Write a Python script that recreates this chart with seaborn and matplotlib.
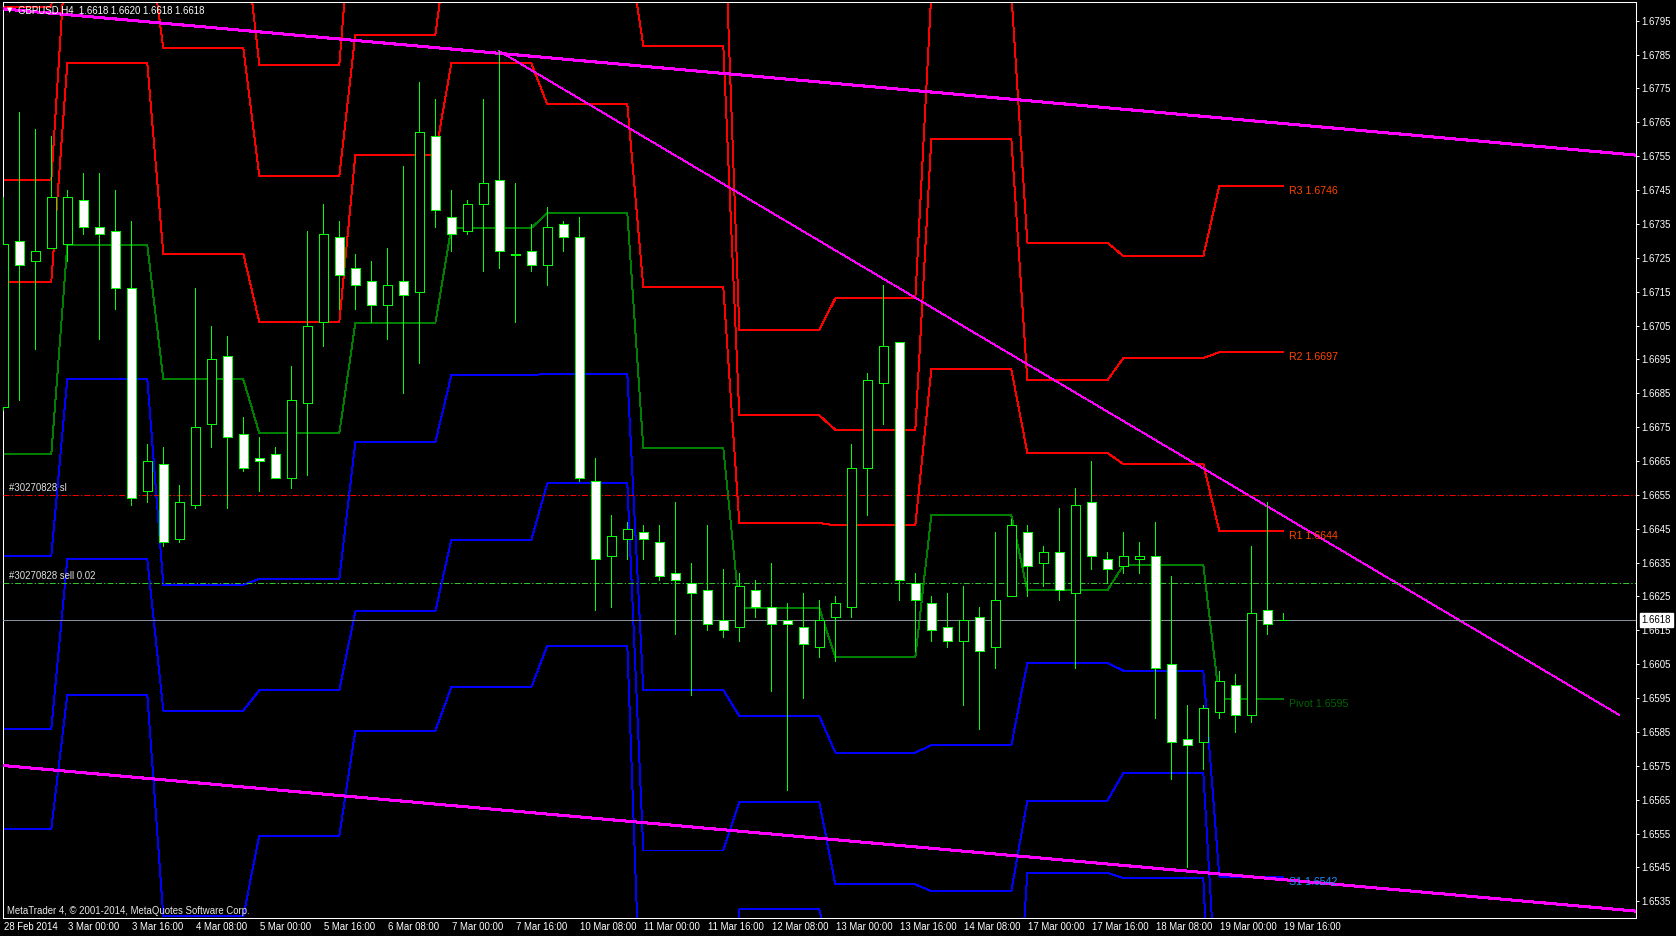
import numpy as np
import pandas as pd
import matplotlib
matplotlib.use("Agg")
import matplotlib.pyplot as plt
from matplotlib import transforms
import seaborn as sns

# ---------------- data ----------------
symbol = "GBPUSD,H4"
tick_labels = ["28 Feb 2014", "3 Mar 00:00", "3 Mar 16:00", "4 Mar 08:00", "5 Mar 00:00",
               "5 Mar 16:00", "6 Mar 08:00", "7 Mar 00:00", "7 Mar 16:00", "10 Mar 08:00",
               "11 Mar 00:00", "11 Mar 16:00", "12 Mar 08:00", "13 Mar 00:00", "13 Mar 16:00",
               "14 Mar 08:00", "17 Mar 00:00", "17 Mar 16:00", "18 Mar 08:00", "19 Mar 00:00",
               "19 Mar 16:00"]

opens = [1.6681, 1.6730, 1.6724, 1.6728, 1.6729, 1.6742, 1.6734, 1.6733, 1.6716, 1.6656,
         1.6664, 1.6642, 1.6652, 1.6676, 1.6696, 1.6673, 1.6666, 1.6667, 1.6660, 1.6682,
         1.6706, 1.6731, 1.6722, 1.6718, 1.6711, 1.6718, 1.6715, 1.6761, 1.6737, 1.6733,
         1.6741, 1.6748, 1.67262, 1.6727, 1.6723, 1.6735, 1.6731, 1.6659, 1.6637, 1.6642,
         1.6644, 1.6641, 1.6632, 1.6629, 1.6627, 1.6618, 1.6616, 1.6627, 1.6622, 1.6618,
         1.6616, 1.6610, 1.6619, 1.6622, 1.6663, 1.6688, 1.6700, 1.6629, 1.6623, 1.6616,
         1.6612, 1.6619, 1.6610, 1.6625, 1.6644, 1.6635, 1.6638, 1.6626, 1.6653, 1.6636,
         1.6634, 1.6636, 1.6637, 1.6605, 1.6583, 1.6582, 1.6591, 1.6599, 1.6590, 1.6621,
         1.6618]
highs = [1.6743, 1.6768, 1.6763, 1.6761, 1.6745, 1.6750, 1.6750, 1.6745, 1.6736, 1.6670,
         1.6669, 1.6658, 1.6716, 1.6705, 1.6702, 1.6678, 1.6672, 1.6669, 1.6693, 1.6733,
         1.6741, 1.6736, 1.6726, 1.6724, 1.6728, 1.6752, 1.6777, 1.6772, 1.6745, 1.6742,
         1.6772, 1.6786, 1.6747, 1.6735, 1.6740, 1.6736, 1.6737, 1.6666, 1.6649, 1.6647,
         1.6646, 1.6646, 1.6653, 1.6635, 1.6646, 1.6633, 1.6632, 1.6630, 1.6635, 1.6623,
         1.6626, 1.6624, 1.6625, 1.6670, 1.6691, 1.6717, 1.6700, 1.6632, 1.6625, 1.6626,
         1.6628, 1.6622, 1.6644, 1.6648, 1.6646, 1.6640, 1.6651, 1.6657, 1.6665, 1.6638,
         1.6644, 1.6641, 1.6647, 1.6631, 1.6593, 1.6593, 1.6603, 1.6602, 1.6640, 1.6653,
         1.6620]
lows = [1.6680, 1.6683, 1.6698, 1.6728, 1.6724, 1.6732, 1.6701, 1.6710, 1.6652, 1.6653,
        1.6640, 1.6641, 1.6651, 1.6669, 1.6651, 1.6662, 1.6656, 1.6660, 1.6657, 1.6661,
        1.6699, 1.6710, 1.6710, 1.6706, 1.6701, 1.6685, 1.6694, 1.6734, 1.6727, 1.6732,
        1.6721, 1.6722, 1.6706, 1.6721, 1.6717, 1.6727, 1.6659, 1.6621, 1.6622, 1.6636,
        1.6636, 1.6630, 1.6614, 1.6596, 1.6615, 1.6613, 1.6612, 1.6619, 1.6597, 1.6568,
        1.6595, 1.6607, 1.6606, 1.6619, 1.6649, 1.6676, 1.6624, 1.6609, 1.6612, 1.6610,
        1.6593, 1.6586, 1.6604, 1.6625, 1.6625, 1.6628, 1.6624, 1.6604, 1.6633, 1.6629,
        1.6632, 1.6632, 1.6589, 1.6571, 1.6545, 1.6574, 1.6589, 1.6585, 1.6588, 1.6614,
        1.6618]
closes = [1.6729, 1.6723, 1.6727, 1.6743, 1.6743, 1.6734, 1.6732, 1.6716, 1.6654, 1.6665,
          1.6641, 1.6653, 1.6675, 1.6695, 1.6672, 1.6663, 1.6665, 1.6660, 1.6683, 1.6705,
          1.6732, 1.6720, 1.6717, 1.6711, 1.6717, 1.6714, 1.6762, 1.6739, 1.6732, 1.6741,
          1.6747, 1.6727, 1.67258, 1.6723, 1.6734, 1.6731, 1.6660, 1.6636, 1.6643, 1.6645,
          1.6642, 1.6631, 1.6630, 1.6626, 1.6617, 1.6615, 1.6628, 1.6622, 1.6617, 1.6617,
          1.6611, 1.6618, 1.6623, 1.6663, 1.6689, 1.6699, 1.6630, 1.6624, 1.6615, 1.6612,
          1.6618, 1.6609, 1.6624, 1.6646, 1.6634, 1.6638, 1.6627, 1.6652, 1.6637, 1.6633,
          1.6637, 1.6637, 1.6604, 1.6582, 1.6581, 1.6592, 1.6600, 1.6590, 1.6620, 1.6617,
          1.6618]

# daily pivot levels (28 Feb, 3 Mar ... 19 Mar)
bars_per_day = [4, 6, 6, 6, 6, 6, 6, 6, 6, 6, 6, 6, 6, 5]
R3 = [1.67990, 1.68750, 1.68240, 1.67820, 1.68406, 1.68745, 1.68508, 1.68352, 1.67037, 1.67130, 1.68032, 1.67295, 1.67255, 1.67462]
R2 = [1.67479, 1.68220, 1.67869, 1.67491, 1.67908, 1.68258, 1.68184, 1.67876, 1.66785, 1.66742, 1.67602, 1.66888, 1.66954, 1.66971]
R1 = [1.67179, 1.67824, 1.67262, 1.67060, 1.67553, 1.67824, 1.67703, 1.67163, 1.66467, 1.66460, 1.66921, 1.66674, 1.66641, 1.66443]
PP = [1.66670, 1.67287, 1.66891, 1.66732, 1.67057, 1.67338, 1.67382, 1.66688, 1.66215, 1.66070, 1.66490, 1.66268, 1.66342, 1.65948]
S1 = [1.66369, 1.66893, 1.66284, 1.66302, 1.66705, 1.66903, 1.66908, 1.65974, 1.65897, 1.65789, 1.65811, 1.66054, 1.66031, 1.65423]
S2 = [1.65859, 1.66360, 1.65913, 1.65973, 1.66206, 1.66417, 1.66584, 1.65500, 1.65643, 1.65400, 1.65380, 1.65647, 1.65729, 1.64925]
S3 = [1.65564, 1.65960, 1.65306, 1.65544, 1.65853, 1.65982, 1.66105, 1.64788, 1.65326, 1.65119, 1.64699, 1.65434, 1.65418, 1.64400]

# trend lines (bar index, price)
channel_bars = [-1, 103]
upper_channel = [1.67989, 1.67549]
lower_channel = [1.65755, 1.65317]
trend_bars = [31, 101]
trend_prices = [1.6786, 1.6590]

# orders / prices
sl_price = 1.6655
entry_price = 1.6629
bid_price = 1.6618
header_ohlc = ["1.6618", "1.6620", "1.6618", "1.6618"]

# ---------------- style ----------------
sns.set_theme(style="dark", rc={"axes.facecolor": "black", "figure.facecolor": "black",
                                "axes.edgecolor": "white", "text.color": "white",
                                "xtick.color": "white", "ytick.color": "white",
                                "axes.grid": False})
plt.rcParams['font.family'] = ['Liberation Sans', 'DejaVu Sans']

W, H = 1676, 936
fig = plt.figure(figsize=(W / 100, H / 100), dpi=100)
fig.patch.set_facecolor("black")
ax = fig.add_axes([2.5 / W, (H - 918.3) / H, (1636.3 - 2.5) / W, (918.3 - 2.3) / H])
ax.set_facecolor("black")

n = len(opens)
bar_idx = np.arange(n)
day_of_bar = np.repeat(np.arange(len(bars_per_day)), bars_per_day)

level_data = {"R3": R3, "R2": R2, "R1": R1, "Pivot": PP, "S1": S1, "S2": S2, "S3": S3}
level_colors = {"R3": "#FF0000", "R2": "#FF0000", "R1": "#FF0000", "Pivot": "#008000",
                "S1": "#0000FF", "S2": "#0000FF", "S3": "#0000FF"}
label_colors = {"R3": "#FF4500", "R2": "#FF4500", "R1": "#FF4500", "Pivot": "#006400",
                "S1": "#1E90FF", "S2": "#1E90FF", "S3": "#1E90FF"}

piv = pd.concat([pd.DataFrame({"bar": bar_idx, "value": np.asarray(v)[day_of_bar], "level": k})
                 for k, v in level_data.items()], ignore_index=True)
sns.lineplot(data=piv, x="bar", y="value", hue="level", palette=level_colors,
             estimator=None, sort=False, legend=False, linewidth=0.7,
             antialiased=False, ax=ax, zorder=2)

# trend lines
ax.plot(channel_bars, upper_channel, color="#FF00FF", lw=1.45, antialiased=False, zorder=3)
ax.plot(channel_bars, lower_channel, color="#FF00FF", lw=1.45, antialiased=False, zorder=3)
ax.plot(trend_bars, trend_prices, color="#FF00FF", lw=0.6, antialiased=False, zorder=3)

# order lines
dashdot = (0, (6.1, 2.2, 1.4, 2.2))
ax.axhline(sl_price, color="#FF0000", lw=0.7, ls=dashdot, zorder=3)
ax.axhline(entry_price, color="#32CD32", lw=0.7, ls=dashdot, zorder=3)
ax.axhline(bid_price, color="#8A93A0", lw=0.7, zorder=3)

# candles
o = np.array(opens); c = np.array(closes)
hi = np.array(highs); lo = np.array(lows)
body_bottom = np.minimum(o, c)
body_height = np.abs(c - o)
fills = np.where(c < o, "white", "black")
ax.vlines(bar_idx, lo, hi, colors="#00FF00", linewidth=0.7, antialiased=False, zorder=4)
ax.bar(bar_idx, body_height, bottom=body_bottom, width=0.58, color=fills,
       edgecolor="#00FF00", linewidth=0.7, antialiased=False, zorder=5)

# axes limits
y_lo, y_hi = 1.652998, 1.680043
ax.set_xlim(-0.05, 102.06)
ax.set_ylim(y_lo, y_hi)
ax.set_xlabel("")
ax.set_ylabel("")

# ticks
ax.yaxis.tick_right()
yt = np.round(np.arange(1.6535, 1.6800, 0.001), 4)
ax.set_yticks(yt)
ax.set_yticklabels([f"{v:.4f}" for v in yt])
ax.tick_params(axis="y", colors="white", length=2.2, width=0.7, pad=1.7,
               labelsize=6.9, direction="out")
xt = bar_idx[::4]
ax.set_xticks(xt)
ax.set_xticklabels(tick_labels, ha="left")
ax.tick_params(axis="x", colors="white", length=3.3, width=0.7, pad=-0.4,
               labelsize=6.9, direction="out")
off = transforms.ScaledTranslation(0.6 / 100, 0, fig.dpi_scale_trans)
for lbl in ax.get_xticklabels():
    lbl.set_transform(lbl.get_transform() + off)

for s in ax.spines.values():
    s.set_color("white")
    s.set_linewidth(0.75)
    s.set_visible(True)

# pivot labels on the last day (only those inside the visible price range)
last = n - 1
for k, v in level_data.items():
    if y_lo + 0.0004 < v[-1] < y_hi:
        ax.text(last + 0.38, v[-1], f"{k} {v[-1]:.4f}", color=label_colors[k], fontsize=7.7,
                va="top", ha="left", clip_on=True, zorder=6)

# order labels
ytr = ax.get_yaxis_transform()
ax.annotate("#30270828 sl", xy=(0.0042, sl_price), xycoords=ytr, xytext=(0, 1.3),
            textcoords="offset points", color="#E0E0E0", fontsize=6.9, va="bottom", zorder=6)
ax.annotate("#30270828 sell 0.02", xy=(0.0042, entry_price), xycoords=ytr, xytext=(0, 1.3),
            textcoords="offset points", color="#E0E0E0", fontsize=6.9, va="bottom", zorder=6)

# bid price box
ax.annotate(f"{bid_price:.4f}", xy=(1, bid_price), xycoords=ytr, xytext=(3.9, 0),
            textcoords="offset points", color="black", fontsize=6.9, va="center", ha="left",
            annotation_clip=False,
            bbox=dict(boxstyle="square,pad=0.22", fc="white", ec="white"), zorder=7)

# header
fig.text(7 / W, 1 - 10.5 / H, "\u25BC", color="white", fontsize=5, va="center",
         family=["DejaVu Sans"])
fig.text(18 / W, 1 - 10.7 / H, f"{symbol}  " + " ".join(header_ohlc), color="white",
         fontsize=6.9, va="center")
ax.text(0.0026, 0.008, "MetaTrader 4, \u00a9 2001-2014, MetaQuotes Software Corp.",
        transform=ax.transAxes, color="#E8E8E8", fontsize=6.9, va="center", zorder=6)

fig.savefig("out.png", dpi=100, facecolor="black")
